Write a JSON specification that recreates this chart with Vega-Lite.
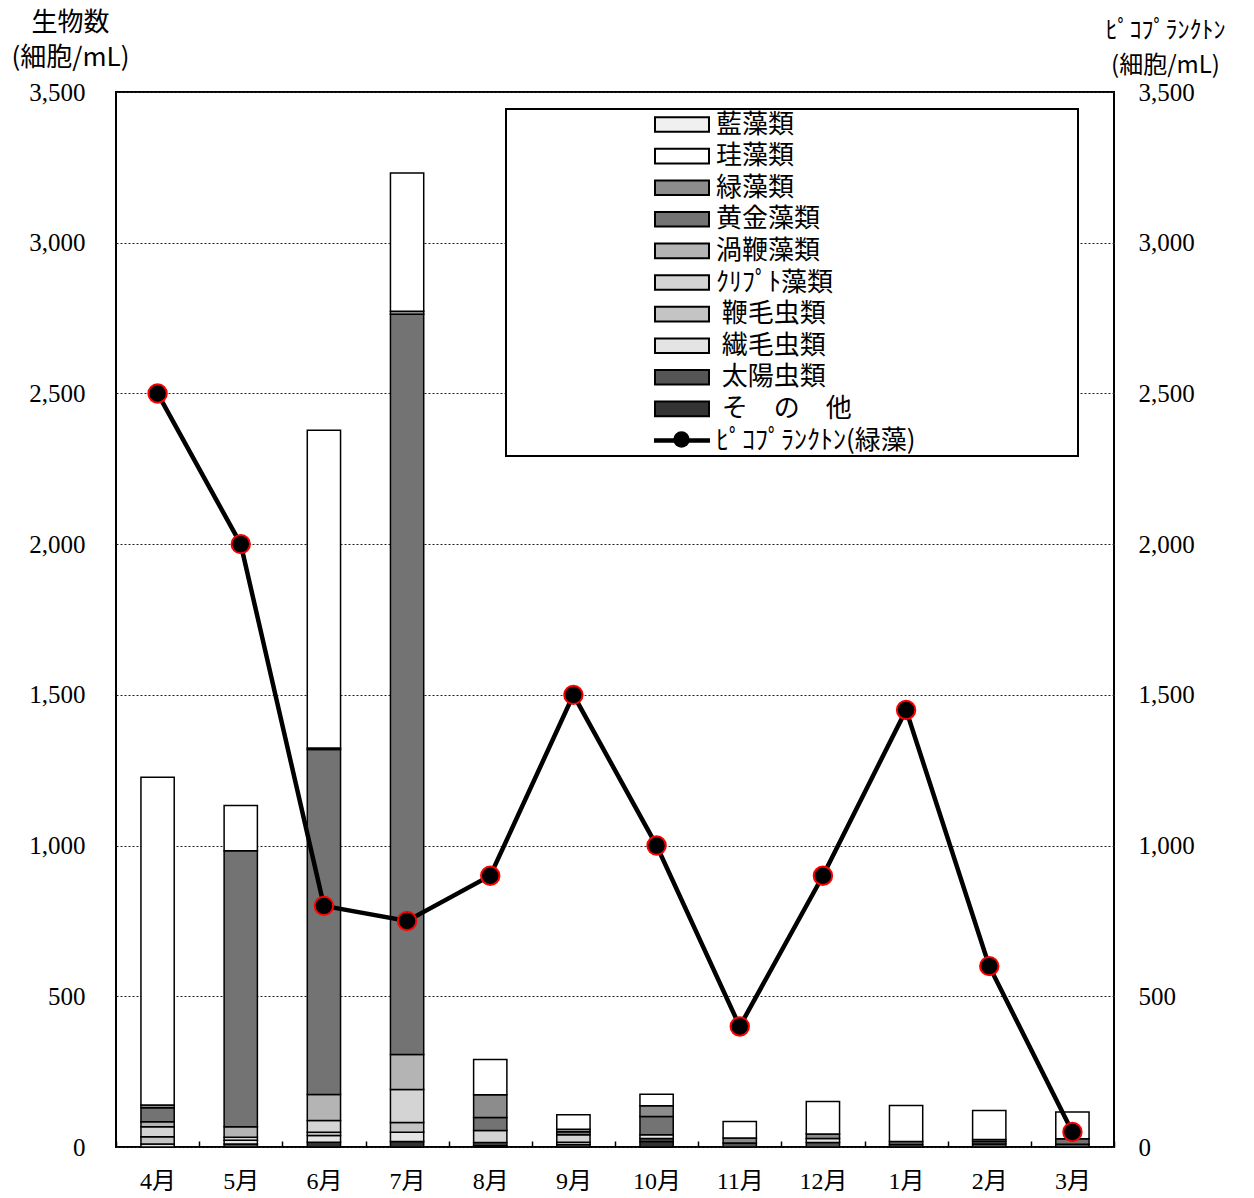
{
  "$schema": "https://vega.github.io/schema/vega-lite/v6.json",
  "width": 998,
  "height": 1055,
  "autosize": {"type": "none"},
  "padding": {"left": 116, "top": 92, "right": 140, "bottom": 51},
  "background": "white",
  "config": {
    "view": {"stroke": "black", "strokeWidth": 2},
    "font": "Noto Sans CJK JP"
  },
  "datasets": {
    "bars": [
      {"month": "4月", "group": "繊毛虫類", "value": 10},
      {"month": "4月", "group": "鞭毛虫類", "value": 24},
      {"month": "4月", "group": "ｸﾘﾌﾟﾄ藻類", "value": 33},
      {"month": "4月", "group": "渦鞭藻類", "value": 17},
      {"month": "4月", "group": "黄金藻類", "value": 46},
      {"month": "4月", "group": "緑藻類", "value": 9},
      {"month": "4月", "group": "珪藻類", "value": 1088},
      {"month": "5月", "group": "太陽虫類", "value": 10},
      {"month": "5月", "group": "繊毛虫類", "value": 12},
      {"month": "5月", "group": "ｸﾘﾌﾟﾄ藻類", "value": 10},
      {"month": "5月", "group": "渦鞭藻類", "value": 35},
      {"month": "5月", "group": "黄金藻類", "value": 916},
      {"month": "5月", "group": "珪藻類", "value": 150},
      {"month": "6月", "group": "その他", "value": 16},
      {"month": "6月", "group": "繊毛虫類", "value": 22},
      {"month": "6月", "group": "鞭毛虫類", "value": 11},
      {"month": "6月", "group": "ｸﾘﾌﾟﾄ藻類", "value": 39},
      {"month": "6月", "group": "渦鞭藻類", "value": 86},
      {"month": "6月", "group": "黄金藻類", "value": 1145},
      {"month": "6月", "group": "緑藻類", "value": 5},
      {"month": "6月", "group": "珪藻類", "value": 1054},
      {"month": "7月", "group": "その他", "value": 18},
      {"month": "7月", "group": "繊毛虫類", "value": 31},
      {"month": "7月", "group": "鞭毛虫類", "value": 32},
      {"month": "7月", "group": "ｸﾘﾌﾟﾄ藻類", "value": 110},
      {"month": "7月", "group": "渦鞭藻類", "value": 116},
      {"month": "7月", "group": "黄金藻類", "value": 2456},
      {"month": "7月", "group": "緑藻類", "value": 10},
      {"month": "7月", "group": "珪藻類", "value": 458},
      {"month": "8月", "group": "その他", "value": 5},
      {"month": "8月", "group": "太陽虫類", "value": 10},
      {"month": "8月", "group": "ｸﾘﾌﾟﾄ藻類", "value": 40},
      {"month": "8月", "group": "黄金藻類", "value": 43},
      {"month": "8月", "group": "緑藻類", "value": 75},
      {"month": "8月", "group": "珪藻類", "value": 117},
      {"month": "9月", "group": "太陽虫類", "value": 8},
      {"month": "9月", "group": "繊毛虫類", "value": 8},
      {"month": "9月", "group": "ｸﾘﾌﾟﾄ藻類", "value": 25},
      {"month": "9月", "group": "黄金藻類", "value": 10},
      {"month": "9月", "group": "緑藻類", "value": 8},
      {"month": "9月", "group": "珪藻類", "value": 48},
      {"month": "10月", "group": "その他", "value": 18},
      {"month": "10月", "group": "太陽虫類", "value": 10},
      {"month": "10月", "group": "繊毛虫類", "value": 13},
      {"month": "10月", "group": "黄金藻類", "value": 60},
      {"month": "10月", "group": "緑藻類", "value": 36},
      {"month": "10月", "group": "珪藻類", "value": 38},
      {"month": "11月", "group": "太陽虫類", "value": 13},
      {"month": "11月", "group": "緑藻類", "value": 17},
      {"month": "11月", "group": "珪藻類", "value": 55},
      {"month": "12月", "group": "太陽虫類", "value": 15},
      {"month": "12月", "group": "繊毛虫類", "value": 13},
      {"month": "12月", "group": "緑藻類", "value": 15},
      {"month": "12月", "group": "珪藻類", "value": 108},
      {"month": "1月", "group": "太陽虫類", "value": 8},
      {"month": "1月", "group": "黄金藻類", "value": 10},
      {"month": "1月", "group": "珪藻類", "value": 120},
      {"month": "2月", "group": "太陽虫類", "value": 10},
      {"month": "2月", "group": "黄金藻類", "value": 8},
      {"month": "2月", "group": "緑藻類", "value": 7},
      {"month": "2月", "group": "珪藻類", "value": 96},
      {"month": "3月", "group": "太陽虫類", "value": 9},
      {"month": "3月", "group": "黄金藻類", "value": 18},
      {"month": "3月", "group": "珪藻類", "value": 89}
    ],
    "pico": [
      {"month": "4月", "pico": 2500},
      {"month": "5月", "pico": 2000},
      {"month": "6月", "pico": 800},
      {"month": "7月", "pico": 750},
      {"month": "8月", "pico": 900},
      {"month": "9月", "pico": 1500},
      {"month": "10月", "pico": 1000},
      {"month": "11月", "pico": 400},
      {"month": "12月", "pico": 900},
      {"month": "1月", "pico": 1450},
      {"month": "2月", "pico": 600},
      {"month": "3月", "pico": 50}
    ]
  },
  "layer": [
    {
      "data": {"name": "bars"},
      "transform": [
        {"calculate": "indexof(['藍藻類','珪藻類','緑藻類','黄金藻類','渦鞭藻類','ｸﾘﾌﾟﾄ藻類','鞭毛虫類','繊毛虫類','太陽虫類','その他'], datum.group)", "as": "stackOrder"}
      ],
      "mark": {"type": "bar", "stroke": "black", "strokeWidth": 1.5, "width": {"band": 0.4}},
      "encoding": {
        "x": {
          "field": "month", "type": "ordinal",
          "sort": ["4月","5月","6月","7月","8月","9月","10月","11月","12月","1月","2月","3月"],
          "scale": {"paddingInner": 0, "paddingOuter": 0},
          "axis": {
            "title": null, "domain": false, "labelAngle": 0,
            "labelFont": "Liberation Serif, Noto Sans CJK JP", "labelFontSize": 24, "labelColor": "black",
            "tickBand": "extent", "tickSize": -6, "tickColor": "black", "tickWidth": 1.5,
            "labelPadding": 28
          }
        },
        "y": {
          "field": "value", "type": "quantitative", "stack": "zero",
          "scale": {"domain": [0, 3500], "nice": false, "zero": true},
          "axis": {
            "orient": "left", "values": [0,500,1000,1500,2000,2500,3000,3500], "format": ",d",
            "grid": true, "gridColor": "#222222", "gridDash": [2, 2], "gridWidth": 1,
            "ticks": false, "domain": false, "labelPadding": 31,
            "labelFont": "Liberation Serif", "labelFontSize": 25, "labelColor": "black",
            "title": ["生物数", "(細胞/mL)"], "titleAngle": 0, "titleX": -46, "titleY": -62,
            "titleAlign": "center", "titleBaseline": "alphabetic", "titleLineHeight": 35,
            "titleFont": "Noto Sans CJK JP", "titleFontSize": 26, "titleFontWeight": "normal", "titleColor": "black"
          }
        },
        "order": {"field": "stackOrder", "type": "quantitative", "sort": "descending"},
        "fill": {
          "field": "group", "type": "nominal",
          "scale": {
            "domain": ["藍藻類","珪藻類","緑藻類","黄金藻類","渦鞭藻類","ｸﾘﾌﾟﾄ藻類","鞭毛虫類","繊毛虫類","太陽虫類","その他","ﾋﾟｺﾌﾟﾗﾝｸﾄﾝ(緑藻)"],
            "range": ["#f0f0f0","#ffffff","#8c8c8c","#737373","#b4b4b4","#d4d4d4","#c4c4c4","#e4e4e4","#555555","#333333","#000000"]
          },
          "legend": {
            "orient": "none", "legendX": 390, "legendY": 17,
            "title": null, "padding": 0, "strokeColor": "black", "fillColor": "white",
            "clipHeight": 31, "rowPadding": 0.6,
            "symbolType": "M-1,-0.27H1V0.27H-1Z", "symbolSize": 2916,
            "symbolStrokeColor": "black", "symbolStrokeWidth": 2,
            "symbolOffset": 148, "labelOffset": 6,
            "labelFont": "Noto Sans CJK JP", "labelFontSize": 26, "labelColor": "black", "labelLimit": 700,
            "labelExpr": "datum.label === 'その他' ? '\u200b\u00a0そ\u3000の\u3000他' : (indexof(['鞭毛虫類','繊毛虫類','太陽虫類'], datum.label) >= 0 ? '\u200b\u00a0' + datum.label : (datum.label === 'ﾋﾟｺﾌﾟﾗﾝｸﾄﾝ(緑藻)' ? datum.label + '\u3000\u3000\u3000\u3000\u3000\u3000\u00a0\u200b' : datum.label))",
            "encode": {
              "legend": {"update": {"strokeWidth": {"value": 2}}},
              "symbols": {
                "update": {
                  "shape": [
                    {"test": "datum.value === 'ﾋﾟｺﾌﾟﾗﾝｸﾄﾝ(緑藻)'", "value": "M-1,-0.05H1V0.05H-1Z"},
                    {"value": "M-1,-0.27H1V0.27H-1Z"}
                  ]
                }
              }
            }
          }
        }
      }
    },
    {
      "data": {"name": "pico"},
      "layer": [
        {
          "mark": {"type": "line", "color": "black", "strokeWidth": 4.5},
          "encoding": {
            "x": {"field": "month", "type": "ordinal", "sort": ["4月","5月","6月","7月","8月","9月","10月","11月","12月","1月","2月","3月"]},
            "y": {
              "field": "pico", "type": "quantitative",
              "scale": {"domain": [0, 3500], "nice": false},
              "axis": {
                "orient": "right", "values": [0,500,1000,1500,2000,2500,3000,3500], "format": ",d",
                "grid": false, "ticks": false, "domain": false, "labelPadding": 24,
                "labelFont": "Liberation Serif", "labelFontSize": 25, "labelColor": "black",
                "title": ["ﾋﾟｺﾌﾟﾗﾝｸﾄﾝ", "(細胞/mL)"], "titleAngle": 0, "titleX": 51, "titleY": -55,
                "titleAlign": "center", "titleBaseline": "alphabetic", "titleLineHeight": 35,
                "titleFont": "Noto Sans CJK JP", "titleFontSize": 24, "titleFontWeight": "normal", "titleColor": "black"
              }
            }
          }
        },
        {
          "mark": {"type": "point", "filled": true, "fill": "black", "stroke": "red", "strokeWidth": 2, "size": 340, "opacity": 1},
          "encoding": {
            "x": {"field": "month", "type": "ordinal", "sort": ["4月","5月","6月","7月","8月","9月","10月","11月","12月","1月","2月","3月"]},
            "y": {"field": "pico", "type": "quantitative"},
            "shape": {
              "datum": "ﾋﾟｺﾌﾟﾗﾝｸﾄﾝ(緑藻)",
              "scale": {"range": ["circle"]},
              "legend": {
                "orient": "none", "legendX": 556, "legendY": 338, "title": null, "padding": 0,
                "labelExpr": "''", "symbolSize": 270, "symbolFillColor": "black",
                "symbolStrokeColor": "red", "symbolStrokeWidth": 2,
                "encode": {"symbols": {"update": {"stroke": {"value": "red"}, "fill": {"value": "black"}, "strokeWidth": {"value": 2}, "opacity": {"value": 1}}}}
              }
            }
          }
        }
      ]
    }
  ],
  "resolve": {"scale": {"y": "independent"}}
}
